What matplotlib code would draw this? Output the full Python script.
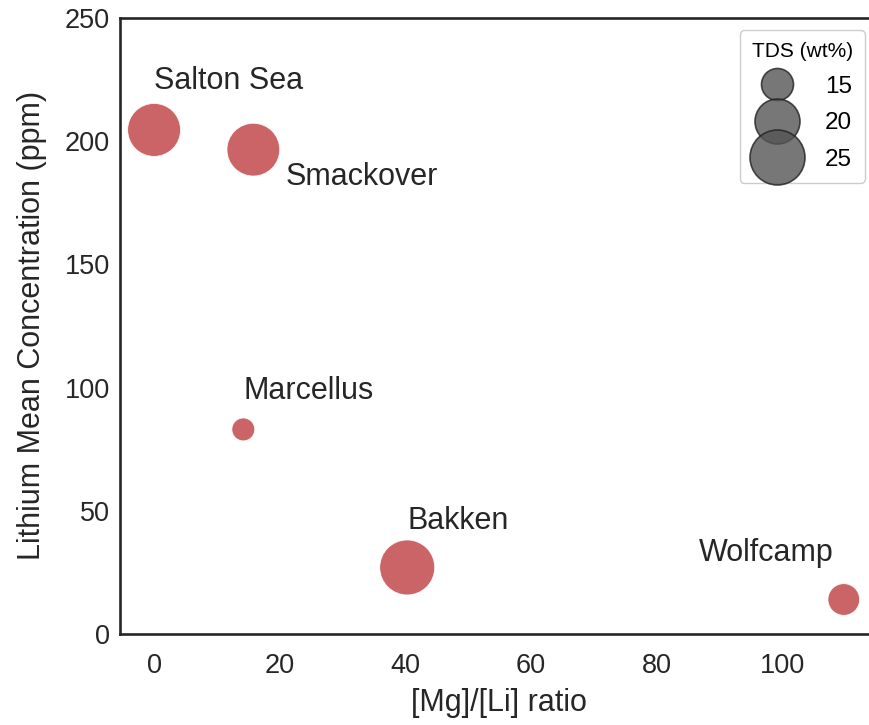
import matplotlib.pyplot as plt
from matplotlib.lines import Line2D
import numpy as np

plt.rcParams['font.family'] = ['Liberation Sans', 'DejaVu Sans']

# Data
sites = ['Salton Sea', 'Smackover', 'Marcellus', 'Bakken', 'Wolfcamp']
mg_li = [0, 15.8, 14.2, 40.3, 109.8]
li_ppm = [204.5, 196.5, 83, 27, 14]
tds = [23.9, 23.8, 12.5, 25.0, 14.9]
legend_tds = [15, 20, 25]

# label offsets (data units) relative to each point
label_dx = [0, 5.2, 0, 0, -23]
label_dy = [20, -11, 15.5, 19, 19]

dpi = 100
px2pt = 72.0 / dpi


def tds_to_s(v):
    # marker area grows linearly with TDS (diameter in px -> area in pt^2)
    d_px2 = 200.0 * np.asarray(v, dtype=float) - 1976.0
    return d_px2 * px2pt ** 2


fig = plt.figure(figsize=(8.7, 7.25), dpi=dpi)
ax = fig.add_axes([0.1375, 0.1255, 0.872, 0.85])

ax.scatter(mg_li, li_ppm, s=tds_to_s(tds), color='#C44E52', alpha=0.88,
           edgecolors='white', linewidths=0.6, zorder=3)

for name, x, y, dx, dy in zip(sites, mg_li, li_ppm, label_dx, label_dy):
    ax.text(x + dx, y + dy, name, fontsize=22, color='#262626',
            ha='left', va='center')

ax.set_ylim(0, 250)
ax.set_xticks([0, 20, 40, 60, 80, 100])
ax.set_yticks([0, 50, 100, 150, 200, 250])
ax.tick_params(labelsize=19.5, length=0, colors='#262626')
ax.tick_params(axis='x', pad=14)
ax.tick_params(axis='y', pad=7)
ax.set_xlabel('[Mg]/[Li] ratio', fontsize=22, color='#262626', labelpad=6)
ax.set_ylabel('Lithium Mean Concentration (ppm)', fontsize=22, color='#262626', labelpad=13)

for sp in ax.spines.values():
    sp.set_color('#262626')
    sp.set_linewidth(1.9)

handles = [Line2D([], [], linestyle='none', marker='o',
                  markersize=np.sqrt(tds_to_s(v)), markerfacecolor='#555555',
                  markeredgecolor='#222222', alpha=0.8, markeredgewidth=1.2)
           for v in legend_tds]
leg = ax.legend(handles, [str(v) for v in legend_tds], title='TDS (wt%)',
                loc='upper right', bbox_to_anchor=(865 / 870, 1 - 30 / 725),
                bbox_transform=fig.transFigure, borderaxespad=0,
                fontsize=17.5, title_fontsize=15,
                labelspacing=0.6, handletextpad=1.0, borderpad=0.5,
                frameon=True, edgecolor='#cccccc', framealpha=1)
leg.get_frame().set_linewidth(1.0)

fig.savefig('out.png', dpi=dpi)
